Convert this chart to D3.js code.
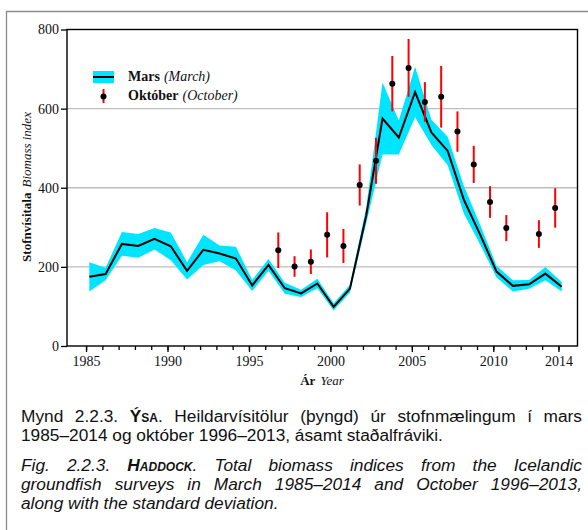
<!DOCTYPE html>
<html>
<head>
<meta charset="utf-8">
<script src="https://cdn.jsdelivr.net/npm/d3@7"></script>
<style>
  body { margin: 0; background: #fff; }
  #wrap { position: relative; width: 588px; height: 530px; overflow: hidden; }
  svg { position: absolute; left: 0; top: 0; }
  .cap { position: absolute; left: 21px; width: 561px; font-family: "Liberation Sans", Arial, sans-serif;
         font-size: 17.3px; line-height: 19px; color: #111; margin: 0; }
  .cap div { text-align: justify; text-align-last: justify; white-space: nowrap; }
  .cap div.last { text-align-last: left; }
  .sc { font-variant: small-caps; font-weight: bold; }
</style>
</head>
<body>
<div id="wrap">
  <div class="cap" style="top:407px;">
    <div>Mynd 2.2.3. <span class="sc">Ýsa</span>. Heildarvísitölur (þyngd) úr stofnmælingum í mars</div>
    <div class="last">1985–2014 og október 1996–2013, ásamt staðalfráviki.</div>
  </div>
  <div class="cap" style="top:456px;font-style:italic;">
    <div>Fig. 2.2.3. <span class="sc">Haddock</span>. Total biomass indices from the Icelandic</div>
    <div>groundfish surveys in March 1985–2014 and October 1996–2013,</div>
    <div class="last">along with the standard deviation.</div>
  </div>
</div>
<script>
// Step 1: data
//= ================================
var marchYears = d3.range(1985, 2015);
var marchIndex = [175, 182, 258, 253, 271, 252, 190, 243, 234, 221,
                  153, 205, 146, 133, 158, 99, 145, 330, 575, 527,
                  642, 540, 493, 369, 281, 188, 152, 156, 183, 150];
var marchSd = [37, 16, 30, 30, 27, 35, 22, 38, 20, 30,
               14, 15, 14, 9, 12, 9, 10, 20, 91, 43,
               64, 32, 36, 35, 25, 15, 14, 11, 17, 12];

// no october survey in 2011
var octYears = [1996, 1997, 1998, 1999, 2000, 2001, 2002, 2003, 2004, 2005,
                2006, 2007, 2008, 2009, 2010, 2012, 2013];
var octIndex = [242, 201, 213, 281, 253, 407, 468, 663, 703, 617,
                630, 542, 459, 364, 298, 283, 349];
var octSd = [45, 26, 31, 57, 43, 52, 58, 70, 73, 50,
             78, 51, 47, 40, 33, 35, 50];

var yTicks = [0, 200, 400, 600, 800];
var xLabels = [1985, 1990, 1995, 2000, 2005, 2010, 2014];

var march = marchYears.map(function(y, i) { return {year: y, v: marchIndex[i], sd: marchSd[i]}; });
var oct = octYears.map(function(y, i) { return {year: y, v: octIndex[i], sd: octSd[i]}; });

// Step 2: set up the chart
//= ================================
var serif = "'Liberation Serif', 'Times New Roman', serif";
var svg = d3.select("#wrap").append("svg")
    .attr("width", 588)
    .attr("height", 530);

// outer figure frame (top and left)
svg.append("path")
    .attr("d", "M6.5,530 V11.5 H588")
    .attr("fill", "none")
    .attr("stroke", "#8a8a8a")
    .attr("stroke-width", 1.3);

var x = d3.scaleLinear().domain([1983.83, 2015.17]).range([67, 577.5]);
var y = d3.scaleLinear().domain([0, 800]).range([346, 29.5]);

// gridlines
svg.append("g")
    .selectAll("line")
    .data([200, 400, 600])
    .enter().append("line")
    .attr("x1", 67).attr("x2", 577.5)
    .attr("y1", function(d) { return y(d); })
    .attr("y2", function(d) { return y(d); })
    .attr("stroke", "#bdbdbd")
    .attr("stroke-width", 1.3);

// march band + line
svg.append("path")
    .datum(march)
    .attr("fill", "#00e5ff")
    .attr("d", d3.area()
        .x(function(d) { return x(d.year + 0.2); })
        .y0(function(d) { return y(d.v - d.sd); })
        .y1(function(d) { return y(d.v + d.sd); }));

svg.append("path")
    .datum(march)
    .attr("fill", "none")
    .attr("stroke", "#000")
    .attr("stroke-width", 2)
    .attr("d", d3.line()
        .x(function(d) { return x(d.year + 0.2); })
        .y(function(d) { return y(d.v); }));

// october error bars + points
var og = svg.append("g");
og.selectAll("line")
    .data(oct)
    .enter().append("line")
    .attr("x1", function(d) { return x(d.year + 0.8); })
    .attr("x2", function(d) { return x(d.year + 0.8); })
    .attr("y1", function(d) { return y(d.v - d.sd); })
    .attr("y2", function(d) { return y(d.v + d.sd); })
    .attr("stroke", "#ff0000")
    .attr("stroke-width", 2);
og.selectAll("circle")
    .data(oct)
    .enter().append("circle")
    .attr("cx", function(d) { return x(d.year + 0.8); })
    .attr("cy", function(d) { return y(d.v); })
    .attr("r", 3)
    .attr("fill", "#000");

// frame
svg.append("rect")
    .attr("x", 67).attr("y", 29.5)
    .attr("width", 577.5 - 67).attr("height", 346 - 29.5)
    .attr("fill", "none")
    .attr("stroke", "#000")
    .attr("stroke-width", 1.4);

// axes
var yAxis = svg.append("g")
    .attr("transform", "translate(67,0)")
    .call(d3.axisLeft(y).tickValues(yTicks).tickSize(6).tickPadding(2).tickSizeOuter(0));
var xMinor = svg.append("g")
    .attr("transform", "translate(0,346)")
    .call(d3.axisBottom(x).tickValues(marchYears).tickSize(4).tickFormat("").tickSizeOuter(0));
var xAxis = svg.append("g")
    .attr("transform", "translate(0,346)")
    .call(d3.axisBottom(x).tickValues(xLabels).tickSize(6).tickPadding(4).tickFormat(d3.format("d")).tickSizeOuter(0));

[yAxis, xAxis, xMinor].forEach(function(a) {
    a.select(".domain").remove();
    a.selectAll("line").attr("stroke", "#000").attr("stroke-width", 1.3);
    a.selectAll("text").attr("font-family", serif).attr("font-size", 14).attr("fill", "#111");
});

// axis titles
var xt = svg.append("text")
    .attr("x", 322).attr("y", 385)
    .attr("text-anchor", "middle")
    .attr("font-family", serif).attr("font-size", 13).attr("fill", "#111");
xt.append("tspan").attr("font-weight", "bold").text("Ár");
xt.append("tspan").attr("font-style", "italic").attr("dx", 5).text("Year");

var yt = svg.append("text")
    .attr("transform", "translate(31,187) rotate(-90)")
    .attr("text-anchor", "middle")
    .attr("font-family", serif).attr("font-size", 13).attr("fill", "#111");
yt.append("tspan").attr("font-weight", "bold").text("Stofnvísitala");
yt.append("tspan").attr("font-style", "italic").attr("dx", 5).text("Biomass index");

// legend
var lg = svg.append("g");
lg.append("rect").attr("x", 93).attr("y", 71).attr("width", 21).attr("height", 12).attr("fill", "#00e5ff");
lg.append("line").attr("x1", 93).attr("x2", 114).attr("y1", 77).attr("y2", 77).attr("stroke", "#000").attr("stroke-width", 2);
lg.append("line").attr("x1", 103.5).attr("x2", 103.5).attr("y1", 89).attr("y2", 103).attr("stroke", "#ff0000").attr("stroke-width", 2);
lg.append("circle").attr("cx", 103.5).attr("cy", 96.5).attr("r", 3).attr("fill", "#000");

var l1 = lg.append("text").attr("x", 128).attr("y", 81)
    .attr("font-family", serif).attr("font-size", 14).attr("fill", "#111");
l1.append("tspan").attr("font-weight", "bold").text("Mars");
l1.append("tspan").attr("font-style", "italic").attr("dx", 4).text("(March)");
var l2 = lg.append("text").attr("x", 128).attr("y", 100)
    .attr("font-family", serif).attr("font-size", 14).attr("fill", "#111");
l2.append("tspan").attr("font-weight", "bold").text("Október");
l2.append("tspan").attr("font-style", "italic").attr("dx", 4).text("(October)");
</script>
</body>
</html>
